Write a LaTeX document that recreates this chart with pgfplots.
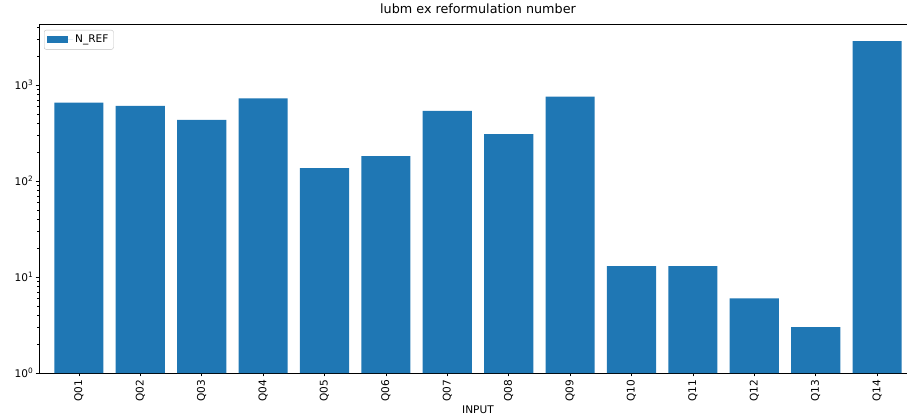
\documentclass[border=0pt]{standalone}
\usepackage{fontspec}
\setmainfont{DejaVu Sans}
\usepackage{pgfplots}
\pgfplotsset{compat=1.18}
\usetikzlibrary{calc}
\definecolor{tabblue}{HTML}{1F77B4}
\begin{document}
\begin{tikzpicture}
\begin{axis}[
 name=ax,
 at={(0,0)}, anchor=south west,
 scale only axis, width=878bp, height=349bp,
 ymode=log, ymin=1, ymax=4355,
 xmin=-0.65, xmax=13.65,
 ybar, bar width=0.8,
 xtick={0,...,13},
 xticklabels={Q01,Q02,Q03,Q04,Q05,Q06,Q07,Q08,Q09,Q10,Q11,Q12,Q13,Q14},
 ytick={1,10,100,1000},
 yticklabels={10\textsuperscript{0},10\textsuperscript{1},10\textsuperscript{2},10\textsuperscript{3}},
 minor ytick={2,3,4,5,6,7,8,9,20,30,40,50,60,70,80,90,200,300,400,500,600,700,800,900,2000,3000,4000},
 tick align=outside, xtick pos=left, ytick pos=left,
 major tick length=3.5bp, minor tick length=2bp,
 major tick style={black, line width=0.8bp},
 minor tick style={black, line width=0.6bp},
 axis line style={black, line width=0.8bp},
 xticklabel style={rotate=90, anchor=east, inner sep=3bp, font=\fontsize{10.6}{12}\selectfont},
 yticklabel style={inner sep=2bp, font=\fontsize{10.6}{12}\selectfont},
 xlabel={INPUT},
 xlabel style={at={(axis description cs:0.5,0)}, anchor=north, yshift=-32.5bp, inner sep=0pt, font=\fontsize{10.6}{12}\selectfont},
 title={lubm ex reformulation number},
 title style={at={(axis description cs:0.5,1)}, anchor=base, yshift=5bp, font=\fontsize{12.8}{15}\selectfont},
 legend style={at={(axis description cs:0,1)}, anchor=north west, xshift=5bp, yshift=-6bp, draw=lightgray, rounded corners=2bp, font=\fontsize{10.6}{12}\selectfont, inner xsep=3bp, inner ysep=3bp},
 legend image code/.code={\path (0bp,0bp) -- (26bp,0bp);\fill[#1, sharp corners] (0bp,-3.5bp) rectangle (21bp,3.5bp);},
]
\addplot[fill=tabblue, draw=none] coordinates {
 (0,659) (1,609) (2,435) (3,732) (4,137) (5,182) (6,540) (7,309) (8,760) (9,13) (10,13) (11,6) (12,3) (13,2893)
};
\addlegendentry{N\_REF}
\end{axis}
\pgfresetboundingbox
\path[use as bounding box] ($(ax.south west)+(-39bp,-43bp)$) rectangle ($(ax.south west)+(868bp,373bp)$);
\end{tikzpicture}
\end{document}
